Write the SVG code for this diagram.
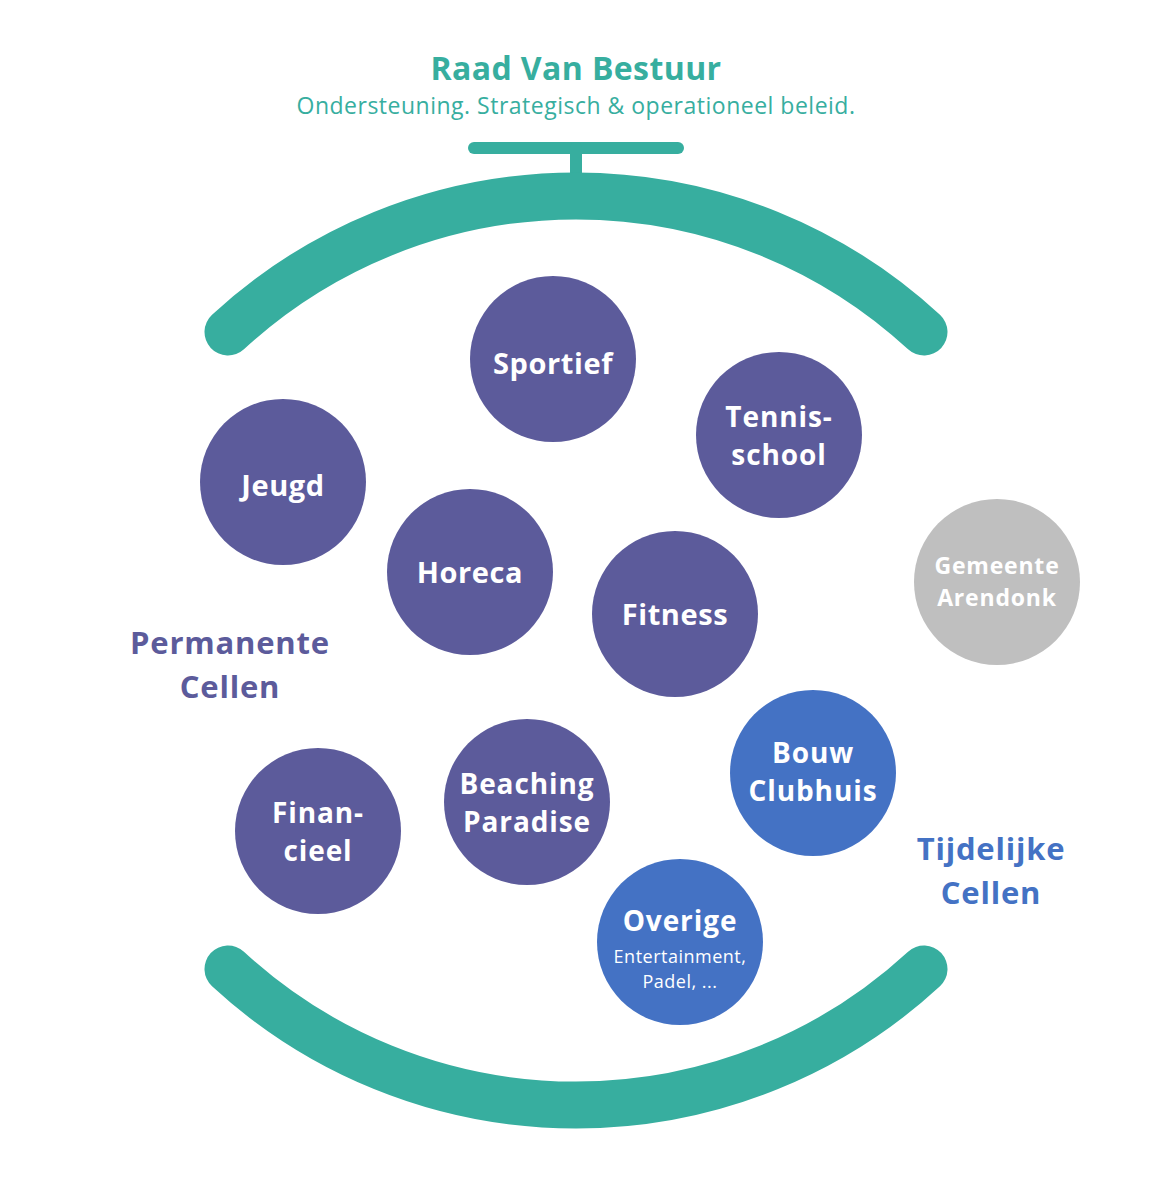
<svg xmlns="http://www.w3.org/2000/svg" width="1152" height="1200" viewBox="0 0 1152 1200">
<style>
.bg{fill:#ffffff}
.arc{fill:none;stroke:#37ae9f;stroke-width:47;stroke-linecap:round}
.bar{fill:none;stroke:#37ae9f;stroke-width:12;stroke-linecap:round}
.perm{fill:#5c5b9b}
.temp{fill:#4472c4}
.ext{fill:#bfbfbf}
.t{font-family:"Open Sans","Noto Sans","Liberation Sans",sans-serif;font-weight:700;fill:#ffffff;text-anchor:middle;font-size:29px;letter-spacing:0.6px}
.t2{font-family:"Open Sans","Noto Sans","Liberation Sans",sans-serif;font-weight:700;fill:#ffffff;text-anchor:middle;font-size:28px;letter-spacing:0.9px}
.ts{font-family:"Open Sans","Noto Sans","Liberation Sans",sans-serif;font-weight:400;fill:#ffffff;text-anchor:middle;font-size:18px;letter-spacing:0.5px}
.tg{font-family:"Open Sans","Noto Sans","Liberation Sans",sans-serif;font-weight:700;fill:#ffffff;text-anchor:middle;font-size:23px;letter-spacing:0.8px}
.title{font-family:"Open Sans","Noto Sans","Liberation Sans",sans-serif;font-weight:700;fill:#37ae9f;text-anchor:middle;font-size:32px;letter-spacing:0.4px}
.sub{font-family:"Open Sans","Noto Sans","Liberation Sans",sans-serif;font-weight:400;fill:#37ae9f;text-anchor:middle;font-size:23px;letter-spacing:0.5px}
.lp{font-family:"Open Sans","Noto Sans","Liberation Sans",sans-serif;font-weight:700;fill:#5c5b9b;text-anchor:middle;font-size:31px;letter-spacing:0.8px}
.lt{font-family:"Open Sans","Noto Sans","Liberation Sans",sans-serif;font-weight:700;fill:#4472c4;text-anchor:middle;font-size:31px;letter-spacing:0.8px}
</style>
<rect class="bg" x="0" y="0" width="1152" height="1200"/>
<g id="header">
<text class="title" x="576" y="80">Raad Van Bestuur</text>
<text class="sub" x="576" y="114">Ondersteuning. Strategisch &amp; operationeel beleid.</text>
</g>
<g id="connectors">
<line class="bar" x1="474" y1="148" x2="678" y2="148"/>
<line class="bar" x1="576" y1="148" x2="576" y2="178"/>
<path class="arc" d="M228,332 A513,513 0 0 1 924,332"/>
<path class="arc" d="M228,969 A513,513 0 0 0 924,969"/>
</g>
<g id="sportief"><circle class="perm" cx="553" cy="359" r="83"/><text class="t" x="553" y="374">Sportief</text></g>
<g id="tennisschool"><circle class="perm" cx="779" cy="435" r="83"/><text class="t2" x="779" y="427">Tennis-</text><text class="t2" x="779" y="465">school</text></g>
<g id="jeugd"><circle class="perm" cx="283" cy="482" r="83"/><text class="t" x="283" y="496">Jeugd</text></g>
<g id="horeca"><circle class="perm" cx="470" cy="572" r="83"/><text class="t" x="470" y="583">Horeca</text></g>
<g id="fitness"><circle class="perm" cx="675" cy="614" r="83"/><text class="t" x="675" y="625">Fitness</text></g>
<g id="gemeente"><circle class="ext" cx="997" cy="582" r="83"/><text class="tg" x="997" y="574">Gemeente</text><text class="tg" x="997" y="606">Arendonk</text></g>
<g id="bouw"><circle class="temp" cx="813" cy="773" r="83"/><text class="t2" x="813" y="763">Bouw</text><text class="t2" x="813" y="801">Clubhuis</text></g>
<g id="beaching"><circle class="perm" cx="527" cy="802" r="83"/><text class="t2" x="527" y="794">Beaching</text><text class="t2" x="527" y="832">Paradise</text></g>
<g id="financieel"><circle class="perm" cx="318" cy="831" r="83"/><text class="t2" x="318" y="823">Finan-</text><text class="t2" x="318" y="861">cieel</text></g>
<g id="overige"><circle class="temp" cx="680" cy="942" r="83"/><text class="t2" x="680" y="931">Overige</text><text class="ts" x="680" y="963">Entertainment,</text><text class="ts" x="680" y="988">Padel, ...</text></g>
<g id="labels">
<text class="lp" x="230" y="654">Permanente</text>
<text class="lp" x="230" y="698">Cellen</text>
<text class="lt" x="991" y="860">Tijdelijke</text>
<text class="lt" x="991" y="904">Cellen</text>
</g>
</svg>
